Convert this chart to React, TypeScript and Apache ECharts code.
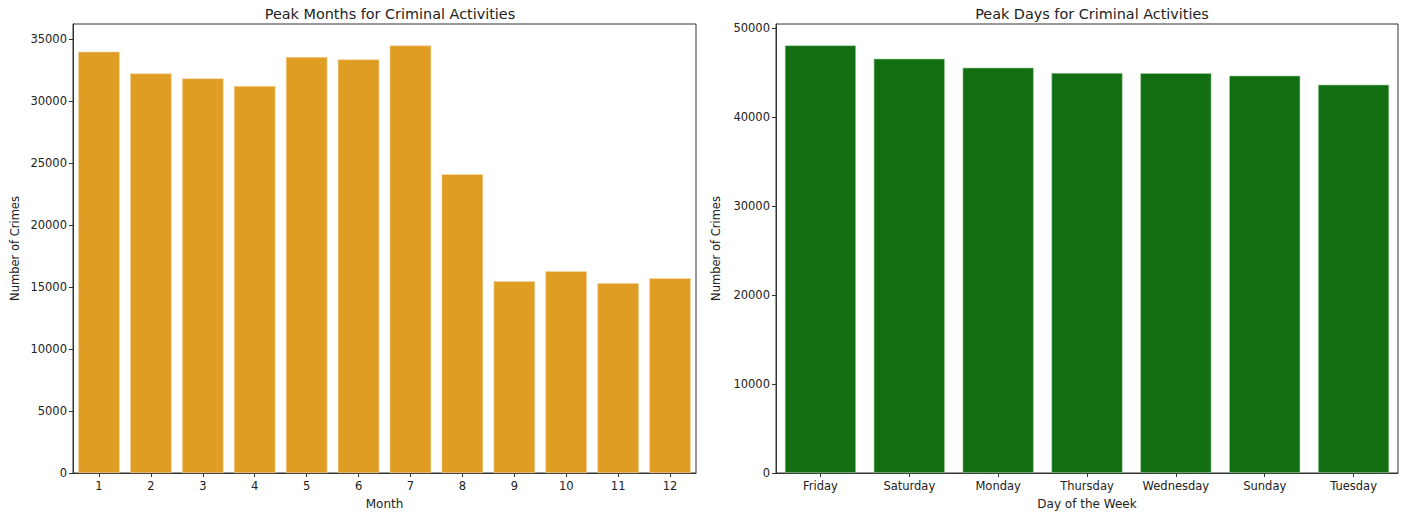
import React, { useEffect, useRef } from "react";
import * as echarts from "echarts";

const months = ["1", "2", "3", "4", "5", "6", "7", "8", "9", "10", "11", "12"];
const monthCounts = [34010, 32260, 31860, 31240, 33580, 33390, 34520, 24130, 15490, 16290, 15330, 15730];
const monthTicks = [0, 5000, 10000, 15000, 20000, 25000, 30000, 35000];

const days = ["Friday", "Saturday", "Monday", "Thursday", "Wednesday", "Sunday", "Tuesday"];
const dayCounts = [48070, 46570, 45560, 44960, 44950, 44660, 43650];
const dayTicks = [0, 10000, 20000, 30000, 40000, 50000];

const FONT = "DejaVu Sans";
const TXT = "#222";

function yAxis(idx: number, max: number, ticks: number[], gap: number) {
  return {
    type: "value",
    gridIndex: idx,
    min: 0,
    max,
    name: "Number of Crimes",
    nameLocation: "middle",
    nameGap: gap,
    nameTextStyle: { fontFamily: FONT, fontSize: 11.5, color: TXT },
    splitLine: { show: false },
    axisLine: { show: true, lineStyle: { color: "#333", width: 1 } },
    axisTick: { show: true, length: 4, lineStyle: { color: "#333" }, customValues: ticks },
    axisLabel: {
      fontFamily: FONT,
      fontSize: 11.5,
      color: TXT,
      margin: 6,
      customValues: ticks,
      formatter: (v: number) => String(Math.round(v)),
    },
  };
}

function xAxis(idx: number, cats: string[], name: string) {
  return {
    type: "category",
    gridIndex: idx,
    data: cats,
    name,
    nameLocation: "middle",
    nameGap: 25,
    nameTextStyle: { fontFamily: FONT, fontSize: 12, color: TXT },
    axisLine: { show: true, lineStyle: { color: "#333", width: 1 } },
    axisTick: { show: true, alignWithLabel: true, length: 4, lineStyle: { color: "#333" } },
    axisLabel: { fontFamily: FONT, fontSize: 11.5, color: TXT, margin: 7, interval: 0 },
  };
}

export default function App() {
  const ref = useRef<HTMLDivElement>(null);
  useEffect(() => {
    if (!ref.current) return;
    const chart = echarts.init(ref.current, undefined, { renderer: "svg" });
    const monthMax = Math.max(...monthCounts) * 1.05;
    const dayMax = Math.max(...dayCounts) * 1.05;
    chart.setOption({
      animation: false,
      backgroundColor: "#fff",
      title: [
        {
          text: "Peak Months for Criminal Activities",
          left: 385,
          top: 2,
          textAlign: "center",
          textStyle: { fontFamily: FONT, fontSize: 14.4, fontWeight: "normal", color: TXT },
        },
        {
          text: "Peak Days for Criminal Activities",
          left: 1087,
          top: 2,
          textAlign: "center",
          textStyle: { fontFamily: FONT, fontSize: 14.4, fontWeight: "normal", color: TXT },
        },
      ],
      grid: [
        { left: 73, right: 710, top: 24, bottom: 43, show: true, borderColor: "#333", borderWidth: 1 },
        { left: 776, right: 8, top: 24, bottom: 43, show: true, borderColor: "#333", borderWidth: 1 },
      ],
      xAxis: [xAxis(0, months, "Month"), xAxis(1, days, "Day of the Week")],
      yAxis: [yAxis(0, monthMax, monthTicks, 52), yAxis(1, dayMax, dayTicks, 54)],
      series: [
        {
          type: "bar",
          xAxisIndex: 0,
          yAxisIndex: 0,
          data: monthCounts,
          barWidth: "80%",
          itemStyle: { color: "#E09D24", borderColor: "#F3D8A8", borderWidth: 0.6 },
        },
        {
          type: "bar",
          xAxisIndex: 1,
          yAxisIndex: 1,
          data: dayCounts,
          barWidth: "80%",
          itemStyle: { color: "#116F11", borderColor: "#A8CFA8", borderWidth: 0.6 },
        },
      ],
    });
    return () => chart.dispose();
  }, []);
  return (
    <div
      ref={ref}
      style={{ position: "absolute", left: 0, top: 0, width: 1406, height: 516 }}
    />
  );
}
